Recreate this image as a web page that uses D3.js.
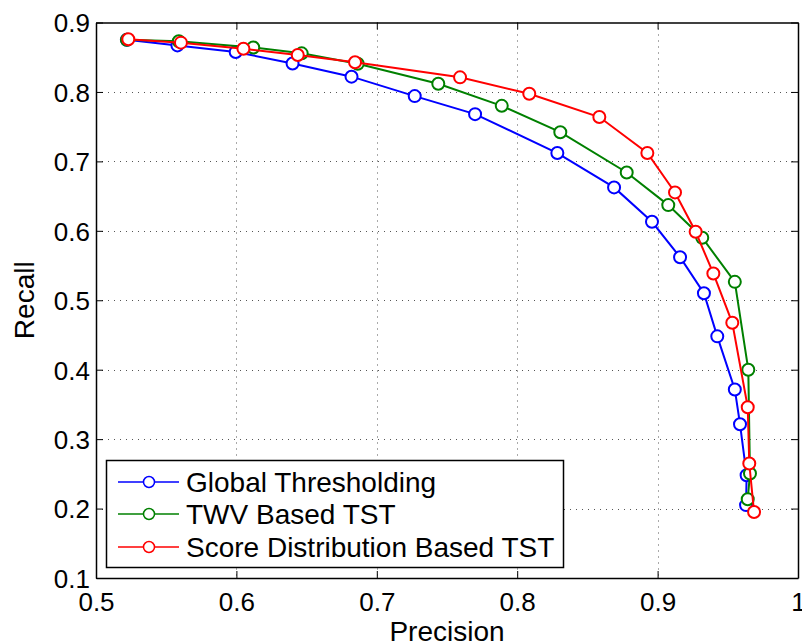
<!DOCTYPE html>
<html><head><meta charset="utf-8">
<script src="https://cdn.jsdelivr.net/npm/d3@7"></script>
<style>body{margin:0;background:#fff}svg{display:block}text{font-family:"Liberation Sans",Arial,sans-serif;fill:#000}</style>
</head><body>
<script>
const xTicks = [0.5, 0.6, 0.7, 0.8, 0.9, 1];
const yTicks = [0.1, 0.2, 0.3, 0.4, 0.5, 0.6, 0.7, 0.8, 0.9];
const seriesNames = ["Global Thresholding", "TWV Based TST", "Score Distribution Based TST"];
const globalPrecision = [0.522, 0.558, 0.5995, 0.640, 0.682, 0.727, 0.770, 0.8286, 0.869, 0.896, 0.916, 0.933, 0.9425, 0.955, 0.9587, 0.9634, 0.963];
const globalRecall    = [0.875, 0.867, 0.8575, 0.841, 0.822, 0.794, 0.768, 0.712, 0.6625, 0.613, 0.562, 0.510, 0.448, 0.3715, 0.3215, 0.248, 0.205];
const twvPrecision = [0.522, 0.559, 0.612, 0.6465, 0.6864, 0.7438, 0.789, 0.8307, 0.878, 0.9076, 0.9318, 0.955, 0.9646, 0.9658, 0.9642];
const twvRecall    = [0.875, 0.873, 0.864, 0.8556, 0.8406, 0.8118, 0.780, 0.742, 0.684, 0.637, 0.590, 0.5265, 0.400, 0.2505, 0.2134];
const sdPrecision = [0.523, 0.5605, 0.605, 0.6437, 0.6845, 0.7593, 0.8086, 0.8585, 0.8927, 0.9124, 0.9271, 0.9397, 0.9532, 0.9642, 0.9653, 0.9687];
const sdRecall    = [0.8758, 0.871, 0.8622, 0.8532, 0.8427, 0.821, 0.7974, 0.7638, 0.712, 0.6553, 0.5986, 0.5386, 0.4675, 0.346, 0.2648, 0.195];
const colors = ["#0000ff", "#008000", "#ff0000"];

const W = 802, H = 644;
const L = 96, R = 798, T = 22.5, B = 578;
const svg = d3.select("body").append("svg").attr("width", W).attr("height", H);
const x = d3.scaleLinear().domain([0.5, 1]).range([L, R]);
const y = d3.scaleLinear().domain([0.1, 0.9]).range([B, T]);

// grid
const grid = svg.append("g").attr("stroke", "#555").attr("stroke-width", 1).attr("stroke-dasharray", "1,5");
grid.selectAll("line.gx").data(xTicks.slice(1, -1)).join("line")
  .attr("x1", d => Math.round(x(d)) + 0.5).attr("x2", d => Math.round(x(d)) + 0.5).attr("y1", T).attr("y2", B);
grid.selectAll("line.gy").data(yTicks.slice(1, -1)).join("line")
  .attr("y1", d => Math.round(y(d)) + 0.5).attr("y2", d => Math.round(y(d)) + 0.5).attr("x1", L).attr("x2", R);

// axes (MATLAB-style, ticks inward)
const tl = 7;
const axB = svg.append("g").attr("transform", `translate(0,${B})`)
  .call(d3.axisBottom(x).tickValues(xTicks).tickSizeInner(-tl).tickSizeOuter(0).tickPadding(15).tickFormat(d => d === 1 ? "1" : d3.format(".1f")(d)));
const axT = svg.append("g").attr("transform", `translate(0,${T})`)
  .call(d3.axisTop(x).tickValues(xTicks).tickSizeInner(-tl).tickSizeOuter(0).tickFormat(""));
const axL = svg.append("g").attr("transform", `translate(${L},0)`)
  .call(d3.axisLeft(y).tickValues(yTicks).tickSizeInner(-tl).tickSizeOuter(0).tickPadding(6).tickFormat(d3.format(".1f")));
const axR = svg.append("g").attr("transform", `translate(${R},0)`)
  .call(d3.axisRight(y).tickValues(yTicks).tickSizeInner(-tl).tickSizeOuter(0).tickFormat(""));
[axB, axT, axL, axR].forEach(a => {
  a.select(".domain").attr("stroke", "#000").attr("stroke-width", 1.5);
  a.selectAll(".tick line").attr("stroke", "#000").attr("stroke-width", 1);
  a.selectAll("text").attr("font-size", 26).attr("font-family", '"Liberation Sans",Arial,sans-serif').attr("fill", "#000");
});
axB.selectAll("text").attr("dy", "0.71em");
axL.selectAll("text").attr("dy", "0.36em");

// axis labels
svg.append("text").attr("x", x(0.75)).attr("y", 641).attr("text-anchor", "middle").attr("font-size", 28).text("Precision");
svg.append("text").attr("transform", `translate(34,${y(0.5)}) rotate(-90)`).attr("text-anchor", "middle").attr("font-size", 28).text("Recall");

// series
const data = [
  d3.zip(globalPrecision, globalRecall),
  d3.zip(twvPrecision, twvRecall),
  d3.zip(sdPrecision, sdRecall)
];
const line = d3.line().x(d => x(d[0])).y(d => y(d[1]));
data.forEach((pts, i) => {
  const g = svg.append("g");
  g.append("path").datum(pts).attr("d", line).attr("fill", "none").attr("stroke", colors[i]).attr("stroke-width", 2);
  g.selectAll("circle").data(pts).join("circle")
    .attr("cx", d => x(d[0])).attr("cy", d => y(d[1])).attr("r", 6)
    .attr("fill", "#fff").attr("stroke", colors[i]).attr("stroke-width", 2);
});

// legend
const lg = svg.append("g");
lg.append("rect").attr("x", 106.5).attr("y", 460.5).attr("width", 457).attr("height", 107)
  .attr("fill", "#fff").attr("stroke", "#000").attr("stroke-width", 1.5);
const rowsY = [482, 514, 547];
seriesNames.forEach((name, i) => {
  lg.append("line").attr("x1", 118).attr("x2", 179).attr("y1", rowsY[i]).attr("y2", rowsY[i])
    .attr("stroke", colors[i]).attr("stroke-width", 1.5);
  lg.append("circle").attr("cx", 149).attr("cy", rowsY[i]).attr("r", 5.5)
    .attr("fill", "#fff").attr("stroke", colors[i]).attr("stroke-width", 1.5);
  lg.append("text").attr("x", 186).attr("y", rowsY[i]).attr("dy", "0.36em").attr("font-size", 28).text(name);
});
</script>
</body></html>
